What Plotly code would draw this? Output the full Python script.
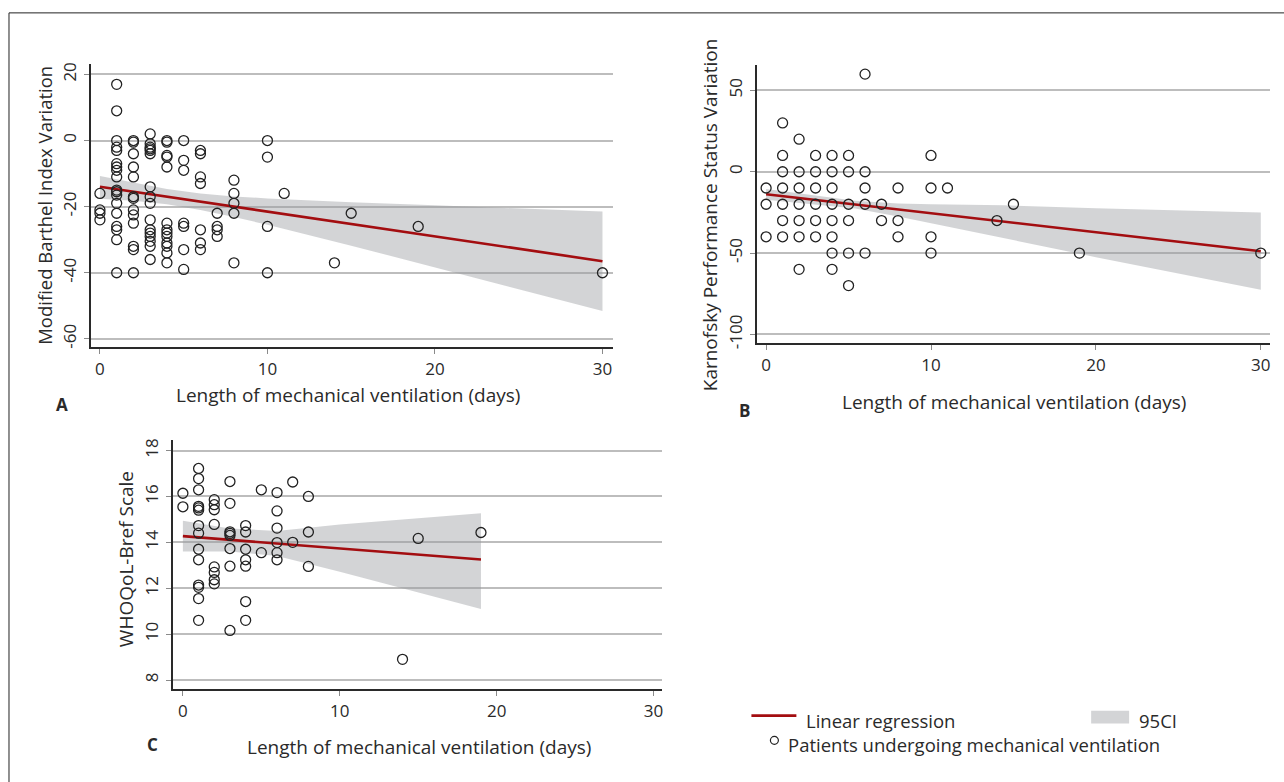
import plotly.graph_objects as go

W, H = 1284, 782

# ---------------- Data ----------------
# Panel A: Modified Barthel Index Variation
a_x = ([0]*4 + [1]*18 + [2]*13 + [3]*16 + [4]*13 + [5]*7 + [6]*7 + [7]*4 + [8]*5 +
       [10]*4 + [11, 14, 15, 19, 30])
a_y = [-16, -21, -22, -24,
       17, 9, 0, -2, -3, -7, -8, -9, -11, -15, -15.5, -16.5, -19, -22, -26, -27, -30, -40,
       0, -0.5, -4, -8, -11, -17, -17.5, -21, -22.5, -25, -32, -33, -40,
       2, -1, -2, -2.5, -3, -4, -14, -17, -19, -24, -27, -28, -29, -30.5, -32, -36,
       0, -0.5, -4.5, -5, -8, -25, -27, -28, -29, -31, -32, -34, -37,
       0, -6, -9, -25, -26, -33, -39,
       -3, -4, -11, -13, -27, -31, -33,
       -22, -26, -27, -29,
       -12, -16, -19, -22, -37,
       0, -5, -26, -40,
       -16, -37, -22, -26, -40]
a_fit_x = [0, 30]
a_fit_y = [-14, -36.5]
a_ci_x = [0, 2, 4, 6, 8, 10, 15, 20, 25, 30]
a_ci_lo = [-17.6, -18.2, -19.3, -21.0, -23.1, -25.5, -31.8, -38.4, -45.0, -51.6]
a_ci_hi = [-10.7, -12.8, -14.7, -16.0, -16.9, -17.5, -18.7, -19.6, -20.5, -21.5]

# Panel B: Karnofsky Performance Status Variation
b_x = ([0]*3 + [1]*7 + [2]*7 + [3]*6 + [4]*8 + [5]*6 + [6]*5 + [7]*2 + [8]*3 +
       [10]*4 + [11, 14, 15, 19, 30])
b_y = [-10, -20, -40,
       30, 10, 0, -10, -20, -30, -40,
       20, 0, -10, -20, -30, -40, -60,
       10, 0, -10, -20, -30, -40,
       10, 0, -10, -20, -30, -40, -50, -60,
       10, 0, -20, -30, -50, -70,
       60, 0, -10, -20, -50,
       -20, -30,
       -10, -30, -40,
       10, -10, -40, -50,
       -10, -30, -20, -50, -50]
b_fit_x = [0, 30]
b_fit_y = [-13.8, -48.9]
b_ci_x = [0, 3, 5.4, 8, 10, 14.4, 20, 30]
b_ci_lo = [-17.2, -20.0, -22.6, -27.5, -31.5, -40.7, -52.5, -72.5]
b_ci_hi = [-10.6, -14.7, -17.8, -19.5, -20.0, -20.6, -22.4, -25.0]

# Panel C: WHOQoL-Bref Scale
c_x = ([0]*2 + [1]*14 + [2]*8 + [3]*8 + [4]*7 + [5]*2 + [6]*6 + [7]*2 + [8]*3 +
       [14, 15, 19])
c_y = [16.14, 15.55,
       17.22, 16.78, 16.29, 15.57, 15.5, 15.4, 14.73, 14.4, 13.7, 13.24, 12.14, 12.04, 11.55, 10.6,
       15.86, 15.64, 15.42, 14.78, 12.93, 12.69, 12.37, 12.19,
       16.65, 15.7, 14.46, 14.39, 14.3, 13.73, 12.96, 10.16,
       14.73, 14.45, 13.7, 13.24, 12.96, 11.42, 10.6,
       16.29, 13.55,
       16.17, 15.37, 14.62, 13.99, 13.55, 13.24,
       16.63, 14.0,
       16.0, 14.45, 12.95,
       8.9, 14.17, 14.43]
c_fit_x = [0, 19]
c_fit_y = [14.27, 13.25]
c_ci_x = [0, 3, 6, 10, 14, 19]
c_ci_lo = [13.6, 13.6, 13.4, 12.72, 12.0, 11.09]
c_ci_hi = [14.94, 14.6, 14.5, 14.78, 15.0, 15.27]

x_ticks = [0, 10, 20, 30]
a_yticks = [20, 0, -20, -40, -60]
b_yticks = [50, 0, -50, -100]
c_yticks = [18, 16, 14, 12, 10, 8]
x_ticklabels = ["0", "10", "20", "30"]
a_yticklabels = ["20", "0", "-20", "-40", "-60"]
b_yticklabels = ["50", "0", "-50", "-100"]
c_yticklabels = ["18", "16", "14", "12", "10", "8"]

x_title = "Length of mechanical ventilation (days)"
a_ytitle = "Modified Barthel Index Variation"
b_ytitle = "Karnofsky Performance Status Variation"
c_ytitle = "WHOQoL-Bref Scale"
legend_labels = ["Linear regression", "95CI", "Patients undergoing mechanical ventilation"]

# ---------------- Styles ----------------
FONT = "Open Sans"
TXT = "#2a2a2a"
RED = "#a30d10"
BAND = "rgba(150,152,158,0.42)"
GRID = "#bdbdbd"


def fx(px):
    return px / W


def fy(py):
    return 1 - py / H


fig = go.Figure()

panels = [
    dict(x=a_x, y=a_y, fx_=a_fit_x, fy_=a_fit_y, cx=a_ci_x, lo=a_ci_lo, hi=a_ci_hi, ax=""),
    dict(x=b_x, y=b_y, fx_=b_fit_x, fy_=b_fit_y, cx=b_ci_x, lo=b_ci_lo, hi=b_ci_hi, ax="2"),
    dict(x=c_x, y=c_y, fx_=c_fit_x, fy_=c_fit_y, cx=c_ci_x, lo=c_ci_lo, hi=c_ci_hi, ax="3"),
]

for p in panels:
    xa, ya = "x" + p["ax"], "y" + p["ax"]
    fig.add_trace(go.Scatter(x=p["cx"] + p["cx"][::-1], y=p["hi"] + p["lo"][::-1],
                             fill="toself", fillcolor=BAND, line=dict(width=0),
                             mode="lines", hoverinfo="skip", showlegend=False,
                             xaxis=xa, yaxis=ya))
    fig.add_trace(go.Scatter(x=p["fx_"], y=p["fy_"], mode="lines",
                             line=dict(color=RED, width=2.6), showlegend=False,
                             xaxis=xa, yaxis=ya))
    fig.add_trace(go.Scatter(x=p["x"], y=p["y"], mode="markers",
                             marker=dict(symbol="circle-open", size=10,
                                         color="#222222", line=dict(width=1.3)),
                             showlegend=False, xaxis=xa, yaxis=ya))

axis_common = dict(showline=True, linecolor="#2a2a2a", linewidth=2,
                   ticks="outside", ticklen=5, tickcolor="#8a8a8a", tickwidth=1,
                   tickfont=dict(family=FONT, size=17, color=TXT), zeroline=False)

xdefs = [("xaxis", "y", (91, 613), (-0.537, 30.6)),
         ("xaxis2", "y2", (757.3, 1271), (-0.57, 30.56)),
         ("xaxis3", "y3", (173.3, 663), (-0.62, 30.57))]
ydefs = [("yaxis", "x", (63, 349), (-62.6, 23.05), a_yticks, a_yticklabels),
         ("yaxis2", "x2", (64, 344.7), (-105.4, 65.4), b_yticks, b_yticklabels),
         ("yaxis3", "x3", (443, 694.3), (7.6, 18.44), c_yticks, c_yticklabels)]

lay = {}
for name, anchor, (l, r), rng in xdefs:
    lay[name] = dict(axis_common, domain=[fx(l), fx(r)], range=list(rng), anchor=anchor,
                     tickvals=x_ticks, ticktext=x_ticklabels, showgrid=False,
                     ticklabelstandoff=0)
for name, anchor, (t, b), rng, tv, tt in ydefs:
    lay[name] = dict(axis_common, domain=[fy(b), fy(t)], range=list(rng), anchor=anchor,
                     tickvals=tv, ticktext=tt, tickangle=-90, showgrid=True, gridcolor=GRID,
                     gridwidth=1.5, ticklabelstandoff=1)

fig.update_layout(width=W, height=H, margin=dict(l=0, r=0, t=0, b=0),
                  paper_bgcolor="white", plot_bgcolor="white", showlegend=False,
                  font=dict(family=FONT, color=TXT), **lay)

ann = []


def text(px, py, s, size=19, angle=0, xanchor="center", bold=False):
    ann.append(dict(x=fx(px), y=fy(py), xref="paper", yref="paper", text=("<b>%s</b>" % s) if bold else s,
                    showarrow=False, textangle=angle, xanchor=xanchor, yanchor="middle",
                    font=dict(family=FONT, size=size, color=TXT)))


text(348, 397, x_title)
text(1015, 404, x_title)
text(419, 753, x_title)
text(45, 205, a_ytitle, size=18.5, angle=-90)
text(710, 215, b_ytitle, angle=-90)
text(126, 563, c_ytitle, angle=-90)
text(62, 407, "A", size=17, bold=True)
text(745, 413, "B", size=17, bold=True)
text(153, 750, "C", size=17, bold=True)
text(805, 725.5, legend_labels[0], size=18.5, xanchor="left")
text(1138, 725.5, legend_labels[1], size=18.5, xanchor="left")
text(787, 750.5, legend_labels[2], size=18.5, xanchor="left")

shapes = [
    dict(type="rect", xref="paper", yref="paper", x0=fx(9), x1=fx(1300), y0=fy(11), y1=fy(800),
         line=dict(color="#222222", width=1)),
    dict(type="line", xref="paper", yref="paper", x0=fx(752), x1=fx(797), y0=fy(721), y1=fy(721),
         line=dict(color=RED, width=2.6)),
    dict(type="rect", xref="paper", yref="paper", x0=fx(1092), x1=fx(1130), y0=fy(716), y1=fy(729),
         line=dict(width=0), fillcolor="#d3d4d6"),
    dict(type="circle", xref="paper", yref="paper", x0=fx(771), x1=fx(779), y0=fy(742), y1=fy(750),
         line=dict(color="#222222", width=1.2)),
]

fig.update_layout(annotations=ann, shapes=shapes)
fig.write_html("out.html", config={"displayModeBar": False},
               post_script="document.body.style.margin='0px';document.body.style.overflow='hidden';")
